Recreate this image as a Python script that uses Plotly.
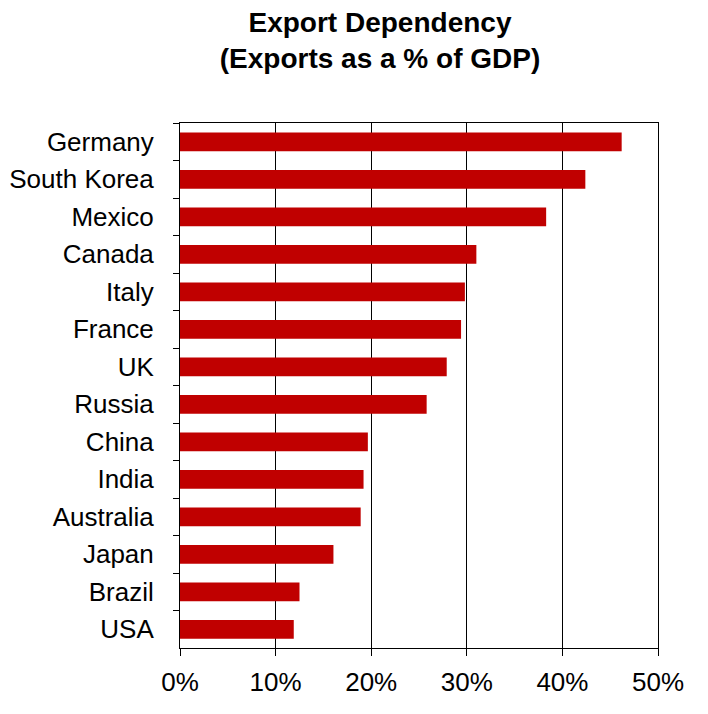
import plotly.graph_objects as go

countries = ["Germany", "South Korea", "Mexico", "Canada", "Italy", "France", "UK",
             "Russia", "China", "India", "Australia", "Japan", "Brazil", "USA"]
exports_pct = [46.2, 42.4, 38.3, 31.0, 29.8, 29.4, 27.9,
               25.8, 19.65, 19.2, 18.9, 16.05, 12.5, 11.9]
x_ticks = [0, 10, 20, 30, 40, 50]
x_tick_labels = ["0%", "10%", "20%", "30%", "40%", "50%"]

FONT = "Liberation Sans, Arial, sans-serif"

fig = go.Figure(go.Bar(
    x=exports_pct,
    y=countries,
    orientation="h",
    marker=dict(color="#C00000", line=dict(width=0)),
))

fig.update_layout(
    width=708, height=714,
    paper_bgcolor="white", plot_bgcolor="white",
    margin=dict(l=172, r=58, t=115, b=74, autoexpand=False),
    bargap=0.5,
    showlegend=False,
    font=dict(family=FONT, color="black"),
    title=dict(
        text="<b>Export Dependency<br>(Exports as a % of GDP)</b>",
        x=372 / 708, xanchor="center", xref="container",
        y=1 - 24 / 714, yanchor="middle", yref="container",
        font=dict(size=28, family=FONT, color="black"),
    ),
)

fig.update_xaxes(
    range=[0, 50],
    tickvals=x_ticks, ticktext=x_tick_labels,
    showgrid=True, gridcolor="black", gridwidth=1,
    showline=True, linecolor="black", linewidth=1, mirror=True,
    ticks="outside", ticklen=7, tickcolor="black", tickwidth=1,
    ticklabelstandoff=4,
    tickfont=dict(size=26, family=FONT, color="black"),
    zeroline=False,
    fixedrange=True,
)

fig.update_yaxes(
    autorange="reversed",
    showgrid=False,
    showline=True, linecolor="black", linewidth=1, mirror=True,
    ticks="outside", ticklen=6, tickcolor="black", tickwidth=1,
    tickson="boundaries",
    ticklabelstandoff=20,
    tickfont=dict(size=26, family=FONT, color="black"),
    fixedrange=True,
)

fig.write_html("out.html")
